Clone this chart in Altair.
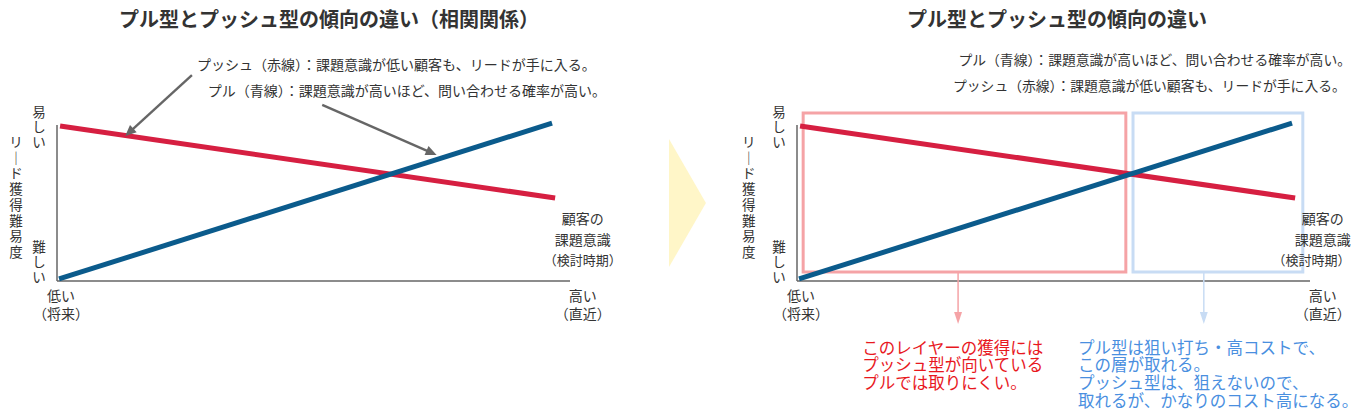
import math
import altair as alt
import pandas as pd

# ---------------- chart values (conceptual units, 0-100 on both axes) ----------------
awareness_push = [0.6, 97.1]      # 顧客の課題意識 (x) – push line (red)
ease_push = [92.3, 49.4]          # リード獲得難易度 (y) – push line
awareness_pull = [0.4, 96.5]      # x – pull line (blue)
ease_pull = [1.2, 94.0]           # y – pull line
series_names = ["プッシュ", "プル"]
series_colors = ["#D61F41", "#0B5B8C"]

panel_titles = ["プル型とプッシュ型の傾向の違い（相関関係）", "プル型とプッシュ型の傾向の違い"]
note_push = "プッシュ（赤線）：課題意識が低い顧客も、リードが手に入る。"
note_pull = "プル（青線）：課題意識が高いほど、問い合わせる確率が高い。"
y_title = ["リ", "｜", "ド", "獲", "得", "難", "易", "度"]
y_high = ["易", "し", "い"]
y_low = ["難", "し", "い"]
x_low = ["低い", "（将来）"]
x_high = ["高い", "（直近）"]
x_title = ["顧客の", "課題意識", "（検討時期）"]
zone_names = ["push zone", "pull zone"]
zone_x_start = [1.2, 65.5]
zone_x_end = [64.1, 98.6]
zone_y_bottom = [5.4, 5.4]
zone_y_top = [100, 100]
zone_colors = ["#F5A3A6", "#C8DCF4"]
zone_push_text = ["このレイヤーの獲得には", "プッシュ型が向いている", "プルでは取りにくい。"]
zone_pull_text = ["プル型は狙い打ち・高コストで、", "この層が取れる。",
                  "プッシュ型は、狙えないので、", "取れるが、かなりのコスト高になる。"]

# ---------------- layout ----------------
W, H = 1344, 405
PX_X, PX_Y = 5.13, 1.68          # pixels per unit
AX_LEFT, AX_BOTTOM = 57, 281      # page position of the left panel's origin
OFFSETS = [0.0, 740 / PX_X]       # x offset of each panel (units)
FONT = "Noto Sans CJK JP"
TXT = "#333333"
GRAY = "#666666"

XS = alt.Scale(domain=[(8 - AX_LEFT) / PX_X, (8 + W - AX_LEFT) / PX_X], nice=False, zero=False)
YS = alt.Scale(domain=[(AX_BOTTOM - 8 - H) / PX_Y, (AX_BOTTOM - 8) / PX_Y], nice=False, zero=False)


def uy(py):
    """page-pixel row -> y units"""
    return (AX_BOTTOM - py) / PX_Y


def ux(px):
    """page-pixel column -> x units"""
    return (px - AX_LEFT) / PX_X


def X(f="x"):
    return alt.X(f"{f}:Q", scale=XS, axis=None)


def Y(f="y"):
    return alt.Y(f"{f}:Q", scale=YS, axis=None)


# ---- lines ----
rows = []
for p, off in enumerate(OFFSETS):
    for s, xs, ys in [(series_names[0], awareness_push, ease_push),
                      (series_names[1], awareness_pull, ease_pull)]:
        for xv, yv in zip(xs, ys):
            rows.append(dict(x=xv + off, y=yv, series=s, key=f"{s}{p}"))
lines = alt.Chart(pd.DataFrame(rows)).mark_line(strokeWidth=5, clip=False).encode(
    x=X(), y=Y(),
    color=alt.Color("series:N", scale=alt.Scale(domain=series_names, range=series_colors), legend=None),
    detail="key:N",
)

# ---- axes ----
arows = []
for off in OFFSETS:
    arows.append(dict(x=off, x2=off, y=0, y2=92.9))
    arows.append(dict(x=off, x2=off + 100, y=0, y2=0))
axes = alt.Chart(pd.DataFrame(arows)).mark_rule(color=GRAY, strokeWidth=1.5).encode(
    x=X(), x2="x2:Q", y=Y(), y2="y2:Q")

# ---- zones (right panel) ----
zdf = pd.DataFrame(dict(zone=zone_names,
                        x=[v + OFFSETS[1] for v in zone_x_start],
                        x2=[v + OFFSETS[1] for v in zone_x_end],
                        y=zone_y_bottom, y2=zone_y_top))
zones = alt.Chart(zdf).mark_rect(fillOpacity=0, strokeWidth=3).encode(
    x=X(), x2="x2:Q", y=Y(), y2="y2:Q",
    stroke=alt.Stroke("zone:N", scale=alt.Scale(domain=zone_names, range=zone_colors), legend=None))

# ---- arrows ----
HEAD = "M0,0 L-0.45,1 L0.45,1 Z"
HEAD_NARROW = "M0,0 L-0.33,1 L0.33,1 Z"


def arrow(sx, sy, tx, ty, color, width, length, path):
    dx = (tx - sx) * PX_X
    dy = -(ty - sy) * PX_Y
    ang = math.degrees(math.atan2(dx, -dy)) % 360
    n = math.hypot(dx, dy)
    ex = tx - (dx / n) * length * 0.6 / PX_X
    ey = ty + (dy / n) * length * 0.6 / PX_Y
    shaft = alt.Chart(pd.DataFrame([dict(x=sx, y=sy, x2=ex, y2=ey)])).mark_rule(
        color=color, strokeWidth=width).encode(x=X(), y=Y(), x2="x2:Q", y2="y2:Q")
    head = alt.Chart(pd.DataFrame([dict(x=tx, y=ty)])).mark_point(
        shape=path, filled=True, color=color, size=(2 * length) ** 2, angle=ang,
        opacity=1, strokeWidth=0).encode(x=X(), y=Y())
    return shaft + head


arr1 = arrow(26.3, 122.6, 13.3, 86.3, GRAY, 2.4, 11, HEAD)
arr2 = arrow(51.7, 104.8, 74.0, 75.0, GRAY, 2.4, 11, HEAD)
zx_push = 31.4 + OFFSETS[1]
zx_pull = 79.3 + OFFSETS[1]
arr3 = arrow(zx_push, 5.4, zx_push, uy(324), "#F5A3A6", 1.5, 12, HEAD_NARROW)
arr4 = arrow(zx_pull, 5.4, zx_pull, uy(324), "#C8DCF4", 1.5, 12, HEAD_NARROW)

# ---- chevron between panels ----
chev = alt.Chart(pd.DataFrame(dict(x=[119.3, 126.5], y=[84.5, 46.4], y2=[8.3, 46.4]))).mark_area(
    color="#FFF6C8", opacity=1).encode(x=X(), y=Y(), y2="y2:Q")


# ---- texts (one row per line) ----
def texts(rows, **kw):
    base = dict(font=FONT, color=TXT, baseline="middle")
    base.update(kw)
    return alt.Chart(pd.DataFrame(rows)).mark_text(**base).encode(x=X(), y=Y(), text="t:N")


def stack(items, x, py0, step):
    return [dict(x=x, y=uy(py0 + i * step), t=s) for i, s in enumerate(items)]


titles = texts([dict(x=53.0, y=uy(20.5), t=panel_titles[0]),
                dict(x=50.7 + OFFSETS[1], y=uy(20.5), t=panel_titles[1])],
               fontSize=20, fontWeight="bold", align="center")

notes_left = texts([dict(x=27.3, y=uy(66), t=note_push),
                    dict(x=29.4, y=uy(92), t=note_pull)],
                   fontSize=14, align="left")
notes_r1 = texts([dict(x=ux(1351), y=uy(61), t=note_pull)], fontSize=13.8, align="right")
notes_r2 = texts([dict(x=ux(953), y=uy(87), t=note_push)], fontSize=13.8, align="left")

vrows, crows, prow = [], [], []
for p, off in enumerate(OFFSETS):
    vrows += stack(y_high, -3.5 + off, 113, 15)
    vrows += stack(y_low, -3.5 + off, 248, 15)
    vrows += stack(y_title, max(-9.4 + off, ux(16)), 143, 15.7)
    crows += stack(x_low, 0.8 + off, 297, 18)
    crows += stack(x_high, 102.5 + off, 297, 18)
    crows += stack(x_title[:2], 102.5 + off, 220, 20.5)
    prow += stack(x_title[2:], (102.5 if p == 0 else 100.3) + off, 261, 20.5)
ylab = texts(vrows, fontSize=13.5, align="center")
xlab = texts(crows, fontSize=14, align="center")
xlab2 = texts(prow, fontSize=13, align="center")

zt_push = texts(stack(zone_push_text, 12.7 + OFFSETS[1], 348.5, 17.8),
                fontSize=16.5, align="left", color="#E8181E")
zt_pull = texts(stack(zone_pull_text, 54.8 + OFFSETS[1], 348.5, 17.8),
                fontSize=16.5, align="left", color="#4A8FDF")

chart = alt.layer(
    chev, zones, axes, lines, arr1, arr2, arr3, arr4,
    titles, notes_left, notes_r1, notes_r2, ylab, xlab, xlab2, zt_push, zt_pull,
).properties(
    width=W, height=H, padding=0, autosize=alt.AutoSizeParams(type="none")
).configure_view(strokeWidth=0)

chart.save("out.html", embed_options={"renderer": "svg", "actions": False})
